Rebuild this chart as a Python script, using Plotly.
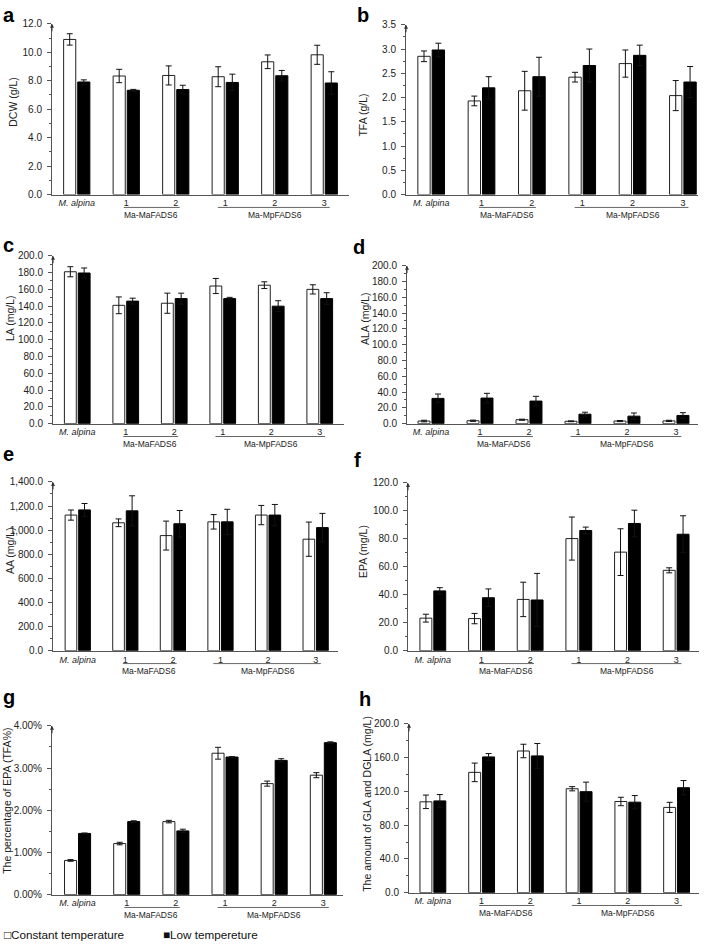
import plotly.graph_objects as go

# ---------------- data ----------------
categories = ["M. alpina", "1", "2", "1", "2", "3"]
group_labels = ["Ma-MaFADS6", "Ma-MpFADS6"]
series_names = ["Constant temperature", "Low tempereture"]

dcw_const = [10.9, 8.33, 8.37, 8.28, 9.33, 9.82]
dcw_const_err = [0.40, 0.47, 0.67, 0.70, 0.48, 0.67]
dcw_low = [7.91, 7.33, 7.38, 7.88, 8.35, 7.84]
dcw_low_err = [0.15, 0.06, 0.30, 0.58, 0.37, 0.79]

tfa_const = [2.85, 1.93, 2.14, 2.42, 2.70, 2.04]
tfa_const_err = [0.11, 0.10, 0.40, 0.10, 0.28, 0.31]
tfa_low = [2.98, 2.20, 2.43, 2.66, 2.87, 2.32]
tfa_low_err = [0.14, 0.23, 0.40, 0.34, 0.21, 0.32]

la_const = [181.0, 141.0, 143.5, 164.0, 165.0, 160.0]
la_const_err = [6.0, 10.0, 12.0, 9.0, 4.0, 5.5]
la_low = [179.5, 146.0, 149.0, 149.0, 140.0, 149.0]
la_low_err = [6.0, 3.5, 6.5, 1.5, 6.5, 7.0]

ala_const = [3.3, 3.7, 5.0, 3.0, 3.3, 3.5]
ala_const_err = [1.0, 0.8, 0.7, 0.5, 0.7, 0.8]
ala_low = [32.0, 32.4, 28.6, 12.0, 9.5, 10.4]
ala_low_err = [5.5, 6.0, 6.0, 2.5, 4.0, 3.5]

aa_const = [1125.0, 1061.0, 955.0, 1069.0, 1125.0, 925.0]
aa_const_err = [42.0, 32.0, 120.0, 60.0, 80.0, 142.0]
aa_low = [1168.0, 1160.0, 1053.0, 1069.0, 1125.0, 1021.0]
aa_low_err = [53.0, 125.0, 110.0, 104.0, 88.0, 118.0]

epa_const = [23.3, 23.0, 36.7, 80.2, 70.5, 57.5]
epa_const_err = [2.8, 3.7, 12.3, 15.4, 16.7, 1.8]
epa_low = [42.8, 37.9, 36.3, 86.0, 91.0, 83.3]
epa_low_err = [2.3, 6.3, 19.0, 2.4, 9.5, 13.2]

epa_pct_const = [0.0081, 0.0121, 0.0173, 0.0335, 0.0263, 0.0283]
epa_pct_const_err = [0.0002, 0.0003, 0.0003, 0.0014, 0.0006, 0.0006]
epa_pct_low = [0.0145, 0.0173, 0.0151, 0.0326, 0.0318, 0.0360]
epa_pct_low_err = [0.0001, 0.0002, 0.0004, 0.0001, 0.0004, 0.0002]

gla_const = [107.6, 142.5, 167.8, 123.1, 108.0, 101.0]
gla_const_err = [8.0, 11.0, 8.0, 2.5, 5.0, 6.0]
gla_low = [108.7, 160.8, 162.0, 119.6, 107.2, 124.3]
gla_low_err = [7.5, 4.0, 14.7, 11.3, 7.8, 8.5]

panel_letters = ["a", "b", "c", "d", "e", "f", "g", "h"]
y_titles = ["DCW (g/L)", "TFA (g/L)", "LA (mg/L)", "ALA (mg/L)",
            "AA (mg/L)", "EPA (mg/L)", "The percentage of EPA (TFA%)",
            "The amount of GLA and DGLA (mg/L)"]

panels_data = [
    (dcw_const, dcw_const_err, dcw_low, dcw_low_err),
    (tfa_const, tfa_const_err, tfa_low, tfa_low_err),
    (la_const, la_const_err, la_low, la_low_err),
    (ala_const, ala_const_err, ala_low, ala_low_err),
    (aa_const, aa_const_err, aa_low, aa_low_err),
    (epa_const, epa_const_err, epa_low, epa_low_err),
    (epa_pct_const, epa_pct_const_err, epa_pct_low, epa_pct_low_err),
    (gla_const, gla_const_err, gla_low, gla_low_err),
]

# ---------------- layout geometry (window pixels) ----------------
W, H = 710, 950
# (x0, x1, ytop, ybottom)
boxes = [
    (52, 349, 18, 191), (406, 698, 19, 191),
    (53, 344, 253, 423), (407, 698, 263, 423),
    (53, 338, 482, 653), (408, 699, 483, 653),
    (52, 343, 729, 900), (409, 699, 727, 898),
]
xranges = [(-0.5, 5.5), (-0.5, 5.3), (-0.5, 5.5), (-0.49, 5.45),
           (-0.52, 5.47), (-0.51, 5.47), (-0.52, 5.4), (-0.49, 5.46)]
yaxes_cfg = [
    dict(range=[0, 12], dtick=2, minor=1, fmt=".1f"),
    dict(range=[0, 3.5], dtick=0.5, minor=0.25, fmt=".1f"),
    dict(range=[0, 200], dtick=20, minor=10, fmt=".1f"),
    dict(range=[0, 200], dtick=20, minor=10, fmt=".1f"),
    dict(range=[0, 1400], dtick=200, minor=100, fmt=",.1f"),
    dict(range=[0, 120], dtick=20, minor=10, fmt=".1f"),
    dict(range=[0, 0.04], dtick=0.01, minor=0.005, fmt=".2%"),
    dict(range=[0, 200], dtick=40, minor=20, fmt=".1f"),
]
ytitle_pos = [(13, 97), (363, 111), (10, 316), (365, 317),
              (10, 552), (363, 553), (7, 805), (367, 808)]
letter_pos = [(9, 9), (363, 9), (8, 242), (359, 244),
              (8, 454), (357, 460), (9, 700), (365, 702)]

def fx(p):
    return p / W

def fy(p):
    return 1 - p / H

FONT = "Liberation Sans, Arial, sans-serif"
AXC = "#555555"
positions = list(range(len(categories)))
ticktext = ["<i>%s</i>" % categories[0]] + categories[1:]

fig = go.Figure()
layout = dict(
    width=W, height=H, margin=dict(l=0, r=0, t=0, b=0),
    paper_bgcolor="white", plot_bgcolor="white",
    barmode="group", bargap=0.43, bargroupgap=0.14,
    showlegend=False, font=dict(family=FONT, color="#222222"),
)
annotations = []
shapes = []

for i, (cv, ce, lv, le) in enumerate(panels_data):
    n = i + 1
    xa, ya = ("x" if n == 1 else "x%d" % n), ("y" if n == 1 else "y%d" % n)
    fig.add_trace(go.Bar(
        x=positions, y=cv, name=series_names[0], xaxis=xa, yaxis=ya,
        marker=dict(color="white", line=dict(color="#222222", width=1)),
        error_y=dict(type="data", array=ce, visible=True, color="#111111",
                     thickness=1, width=3),
        offsetgroup="c",
    ))
    fig.add_trace(go.Bar(
        x=positions, y=lv, name=series_names[1], xaxis=xa, yaxis=ya,
        marker=dict(color="black", line=dict(color="black", width=1)),
        error_y=dict(type="data", array=le, visible=True, color="#111111",
                     thickness=1, width=3),
        offsetgroup="l",
    ))
    x0, x1, yt, yb = boxes[i]
    cfg = yaxes_cfg[i]
    layout["xaxis" if n == 1 else "xaxis%d" % n] = dict(
        domain=[fx(x0), fx(x1)], anchor=ya, range=list(xranges[i]),
        showline=True, linecolor=AXC, linewidth=1, ticks="",
        tickvals=positions, ticktext=ticktext, showgrid=False,
        zeroline=False, tickfont=dict(size=9, family=FONT, color="#222"),
    )
    layout["yaxis" if n == 1 else "yaxis%d" % n] = dict(
        domain=[fy(yb), fy(yt)], anchor=xa, range=cfg["range"],
        dtick=cfg["dtick"], tick0=0, tickformat=cfg["fmt"],
        showline=True, linecolor=AXC, linewidth=1, ticks="outside",
        ticklen=4, tickcolor=AXC, showgrid=False, zeroline=False,
        ticklabelstandoff=3,
        tickfont=dict(size=10, family=FONT, color="#222"),
        minor=dict(ticks="outside", ticklen=2, dtick=cfg["minor"],
                   tick0=0, tickcolor=AXC, showgrid=False),
    )
    # axis arrow
    annotations.append(dict(
        x=0, y=1.0, xref=xa + " domain", yref=ya + " domain", text="",
        showarrow=True, ax=0, ay=9, arrowhead=2, arrowsize=0.8,
        arrowwidth=1, arrowcolor="#333333",
    ))
    # group underlines and labels
    for (xa0, xa1, xc, lab) in [(0.95, 2.08, 1.5, group_labels[0]),
                                (2.85, 5.11, 4.0, group_labels[1])]:
        shapes.append(dict(type="line", xref=xa, yref="paper",
                           x0=xa0, x1=xa1, y0=fy(yb + 13), y1=fy(yb + 13),
                           line=dict(color="#666666", width=1)))
        annotations.append(dict(
            x=xc, y=fy(yb + 21), xref=xa, yref="paper", text=lab,
            showarrow=False, xanchor="center", yanchor="middle",
            font=dict(size=8.5, family=FONT, color="#222"),
        ))
    # y title
    tx, ty = ytitle_pos[i]
    annotations.append(dict(
        x=fx(tx), y=fy(ty), xref="paper", yref="paper", text=y_titles[i],
        textangle=-90, showarrow=False, xanchor="center", yanchor="middle",
        font=dict(size=10.5, family=FONT, color="#222"),
    ))
    # panel letter
    lx, ly = letter_pos[i]
    annotations.append(dict(
        x=fx(lx), y=fy(ly), xref="paper", yref="paper",
        text="<b>%s</b>" % panel_letters[i], showarrow=False,
        xanchor="center", yanchor="middle",
        font=dict(size=20, family=FONT, color="black"),
    ))

# legend as text (as in the original figure)
annotations.append(dict(x=fx(2), y=fy(940), xref="paper", yref="paper",
                        text="\u25a1" + series_names[0], showarrow=False,
                        xanchor="left", yanchor="middle",
                        font=dict(size=11.7, family=FONT, color="#111")))
annotations.append(dict(x=fx(161), y=fy(940), xref="paper", yref="paper",
                        text="\u25a0" + series_names[1], showarrow=False,
                        xanchor="left", yanchor="middle",
                        font=dict(size=11.7, family=FONT, color="#111")))

layout["annotations"] = annotations
layout["shapes"] = shapes
fig.update_layout(**layout)
fig.write_html(
    "out.html",
    config={"displayModeBar": False},
    post_script="document.body.style.margin='0';"
                "document.body.style.overflow='hidden';",
)
